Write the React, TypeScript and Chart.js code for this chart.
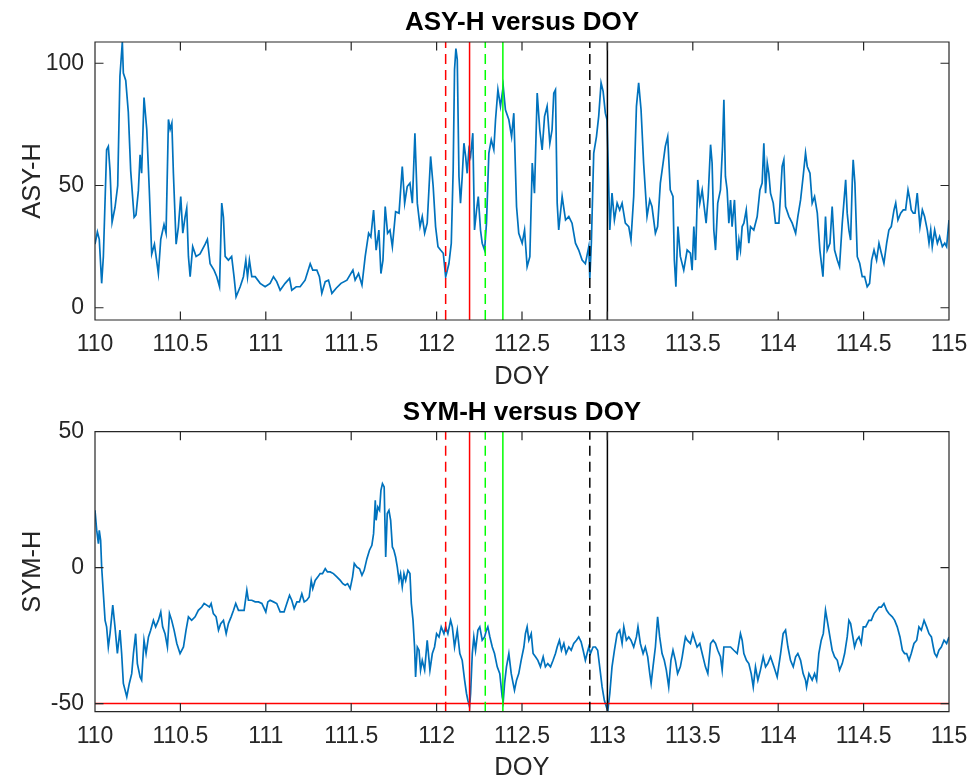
import React, { useEffect, useRef } from "react";
import { Chart, registerables } from "chart.js";

Chart.register(...registerables);

const FONT = '"Liberation Sans", Arial, Helvetica, sans-serif';
const AXIS_COLOR = "#262626";

// ---------- data ----------
const X_TICKS = [110, 110.5, 111, 111.5, 112, 112.5, 113, 113.5, 114, 114.5, 115];
const ASY_TICKS = [0, 50, 100];
const SYM_TICKS = [-50, 0, 50];
const ASY_RANGE = [-5, 108.7];
const SYM_RANGE = [-53, 50];

const asyDoy = [
  110.0, 110.014, 110.025, 110.039, 110.049, 110.068, 110.078, 110.088, 110.1, 110.117, 110.133, 110.146, 110.16, 110.166, 110.18,
  110.195, 110.209, 110.229, 110.24, 110.254, 110.264, 110.273, 110.287, 110.303, 110.318, 110.332, 110.348, 110.371, 110.385, 110.404,
  110.416, 110.43, 110.44, 110.45, 110.459, 110.475, 110.488, 110.502, 110.514, 110.527, 110.537, 110.547, 110.557, 110.572, 110.592,
  110.615, 110.645, 110.658, 110.674, 110.697, 110.713, 110.729, 110.742, 110.752, 110.762, 110.781, 110.8, 110.814, 110.826, 110.85,
  110.869, 110.883, 110.893, 110.904, 110.918, 110.938, 110.967, 110.996, 111.025, 111.045, 111.064, 111.084, 111.113, 111.139, 111.152,
  111.178, 111.201, 111.23, 111.26, 111.275, 111.299, 111.314, 111.328, 111.348, 111.367, 111.387, 111.412, 111.44, 111.475, 111.51,
  111.523, 111.543, 111.563, 111.582, 111.602, 111.615, 111.631, 111.646, 111.662, 111.674, 111.686, 111.699, 111.713, 111.727, 111.741,
  111.76, 111.78, 111.799, 111.813, 111.828, 111.844, 111.858, 111.873, 111.887, 111.903, 111.916, 111.93, 111.945, 111.965, 111.98,
  111.994, 112.008, 112.023, 112.039, 112.053, 112.072, 112.086, 112.097, 112.105, 112.113, 112.121, 112.131, 112.14, 112.15, 112.16,
  112.17, 112.179, 112.189, 112.199, 112.212, 112.222, 112.234, 112.244, 112.257, 112.267, 112.281, 112.292, 112.306, 112.32, 112.335,
  112.345, 112.359, 112.374, 112.39, 112.403, 112.423, 112.439, 112.452, 112.468, 112.481, 112.501, 112.515, 112.53, 112.546, 112.56,
  112.573, 112.589, 112.604, 112.618, 112.632, 112.647, 112.663, 112.676, 112.686, 112.696, 112.706, 112.715, 112.735, 112.755, 112.774,
  112.793, 112.813, 112.832, 112.852, 112.871, 112.891, 112.897, 112.906, 112.92, 112.936, 112.949, 112.963, 112.975, 112.988, 112.998,
  113.014, 113.027, 113.041, 113.057, 113.072, 113.086, 113.105, 113.125, 113.138, 113.154, 113.17, 113.183, 113.197, 113.212, 113.232,
  113.248, 113.261, 113.281, 113.294, 113.31, 113.326, 113.339, 113.353, 113.368, 113.384, 113.392, 113.401, 113.413, 113.427, 113.447,
  113.467, 113.486, 113.496, 113.506, 113.516, 113.529, 113.541, 113.555, 113.564, 113.578, 113.59, 113.604, 113.613, 113.623, 113.633,
  113.646, 113.662, 113.674, 113.682, 113.691, 113.701, 113.711, 113.721, 113.73, 113.744, 113.76, 113.77, 113.779, 113.789, 113.799,
  113.813, 113.828, 113.838, 113.857, 113.877, 113.893, 113.906, 113.916, 113.926, 113.936, 113.945, 113.955, 113.971, 113.984, 114.004,
  114.023, 114.033, 114.043, 114.063, 114.082, 114.102, 114.115, 114.131, 114.146, 114.16, 114.17, 114.186, 114.199, 114.213, 114.229,
  114.244, 114.262, 114.277, 114.287, 114.303, 114.316, 114.33, 114.346, 114.359, 114.375, 114.395, 114.404, 114.414, 114.424, 114.434,
  114.439, 114.449, 114.463, 114.477, 114.492, 114.506, 114.521, 114.535, 114.547, 114.561, 114.576, 114.59, 114.604, 114.619, 114.635,
  114.648, 114.662, 114.678, 114.688, 114.701, 114.717, 114.732, 114.746, 114.76, 114.771, 114.779, 114.791, 114.801, 114.814, 114.83,
  114.844, 114.857, 114.873, 114.883, 114.893, 114.902, 114.916, 114.932, 114.945, 114.961, 114.975, 114.986, 115.0,
];

const asyVal = [
  26, 31, 28, 10, 21, 64.6, 66, 56, 35, 41, 50, 94.7, 108.7, 96, 93,
  80, 56, 37, 38, 48, 62.6, 55, 86, 73, 48, 22, 26, 14, 28, 34,
  30.5, 77, 73, 75.5, 55, 26, 33, 45.5, 30.5, 37, 40.7, 21, 12.7, 25, 21,
  22, 26, 28, 18, 15.4, 12.7, 8.6, 42.8, 37, 21, 19.5, 21, 12.7, 4.5, 8.6,
  12.7, 19.5, 12.7, 19.5, 12.7, 12.7, 10, 8.6, 10, 12.7, 10.7, 7.2, 10, 12, 7.2,
  8.6, 8.6, 11.3, 18, 15.4, 15.4, 12.7, 5.9, 10.7, 11.3, 5.9, 8, 10, 11.3, 15.4,
  11.3, 14, 9.3, 21, 30.5, 29, 40, 23.6, 31.8, 14, 19.5, 41.4, 30.5, 31.8, 25,
  39.3, 38.7, 57.8, 42.8, 49.6, 51, 42.8, 71.4, 42.8, 33.2, 37.3, 30.5, 34.6, 61.9, 49.6,
  33.2, 25, 23.6, 22.3, 12.7, 18, 26.4, 56.4, 97.4, 106, 101.5, 53.7, 42.8, 53.7, 67.3,
  61.9, 55, 64.6, 61.9, 71.4, 31.8, 40, 45.5, 31.8, 26.4, 23.6, 34.6, 63.3, 68.7, 64.6,
  76.9, 89.2, 82.4, 90.6, 81, 76.9, 70, 79.6, 41.4, 30.5, 26.4, 31.8, 16.8, 20.9, 59.2,
  46.9, 87.8, 72.8, 64.6, 78.3, 82.4, 67.3, 72.8, 87.8, 89.2, 42.8, 31.8, 45.5, 35.9, 37.3,
  34.6, 26.4, 23.6, 19.5, 18, 25, 12, 26.4, 63.3, 70, 78.3, 92, 88.5, 79.6, 76.9,
  31.8, 46.9, 35.9, 42.8, 40, 42.8, 34.6, 33.2, 27.7, 45.5, 82.4, 92, 81, 59.2, 37.3,
  44.1, 41.4, 30.5, 33.2, 51, 59.2, 66, 70, 48.2, 45.5, 19.5, 8.6, 33.2, 21, 15.4,
  23.6, 22.3, 15.4, 33.2, 19.5, 52.3, 42.8, 48.2, 42.8, 34.6, 45.5, 66.7, 59.2, 31.8, 23.6,
  42.8, 48.2, 66, 85.1, 53.7, 48.2, 34.6, 44.1, 33.2, 44.1, 19.5, 27.7, 23.6, 33.2, 34.6,
  40, 26.4, 33.2, 31.8, 37.3, 48.2, 51, 67.3, 46.9, 59.2, 55, 46.9, 42.8, 34.6, 34.6,
  57.8, 60.5, 41.4, 37.3, 34.6, 30.5, 37.3, 44.1, 53.7, 63.3, 57.8, 55, 42.8, 45.5, 38.7,
  23.6, 12.7, 37.3, 23.6, 26.4, 41.4, 23.6, 19.5, 16.8, 34.6, 52.3, 38.7, 31.8, 27.7, 52.3,
  60.5, 51, 20.9, 18.2, 12.7, 12.7, 8.6, 10, 19.5, 23.6, 19.5, 26.4, 22.3, 18.2, 26.4,
  31.8, 33.2, 40, 42.8, 35.9, 38.7, 40, 40, 48.2, 44.1, 40, 38.7, 38.7, 46.9, 33.2,
  40, 37.3, 31.8, 26.4, 31.8, 25, 31.8, 26.4, 29.1, 25, 26.4, 25, 35.9,
];

const symDoy = [
  110.0, 110.01, 110.02, 110.025, 110.033, 110.039, 110.049, 110.059, 110.068, 110.078, 110.088, 110.104, 110.117, 110.131, 110.146,
  110.156, 110.166, 110.186, 110.201, 110.215, 110.225, 110.238, 110.248, 110.264, 110.273, 110.287, 110.299, 110.313, 110.326, 110.342,
  110.355, 110.371, 110.385, 110.396, 110.41, 110.424, 110.436, 110.449, 110.463, 110.479, 110.498, 110.518, 110.533, 110.547, 110.566,
  110.586, 110.605, 110.625, 110.639, 110.654, 110.67, 110.68, 110.693, 110.709, 110.723, 110.736, 110.752, 110.768, 110.781, 110.797,
  110.811, 110.824, 110.84, 110.859, 110.873, 110.889, 110.898, 110.918, 110.938, 110.957, 110.977, 111.0, 111.012, 111.025, 111.045,
  111.064, 111.084, 111.107, 111.123, 111.139, 111.152, 111.166, 111.182, 111.197, 111.211, 111.225, 111.24, 111.254, 111.266, 111.275,
  111.289, 111.305, 111.318, 111.332, 111.348, 111.361, 111.377, 111.396, 111.416, 111.436, 111.451, 111.465, 111.479, 111.494, 111.508,
  111.518, 111.533, 111.549, 111.563, 111.576, 111.592, 111.607, 111.621, 111.631, 111.641, 111.646, 111.656, 111.666, 111.674, 111.683,
  111.693, 111.702, 111.711, 111.721, 111.731, 111.741, 111.75, 111.76, 111.77, 111.78, 111.789, 111.799, 111.809, 111.819, 111.832,
  111.844, 111.852, 111.862, 111.871, 111.877, 111.887, 111.897, 111.906, 111.916, 111.93, 111.945, 111.961, 111.975, 111.988, 112.0,
  112.014, 112.027, 112.043, 112.053, 112.066, 112.082, 112.092, 112.105, 112.121, 112.136, 112.15, 112.164, 112.175, 112.183, 112.193,
  112.199, 112.209, 112.218, 112.228, 112.242, 112.253, 112.267, 112.281, 112.292, 112.3, 112.312, 112.326, 112.339, 112.355, 112.37,
  112.384, 112.39, 112.398, 112.409, 112.423, 112.437, 112.448, 112.456, 112.468, 112.481, 112.495, 112.511, 112.52, 112.53, 112.54,
  112.554, 112.565, 112.579, 112.593, 112.608, 112.624, 112.637, 112.651, 112.667, 112.682, 112.696, 112.706, 112.719, 112.731, 112.745,
  112.758, 112.774, 112.788, 112.803, 112.819, 112.832, 112.846, 112.858, 112.871, 112.881, 112.891, 112.901, 112.916, 112.93, 112.943,
  112.955, 112.969, 112.982, 112.994, 113.002, 113.014, 113.027, 113.041, 113.057, 113.072, 113.086, 113.096, 113.111, 113.125, 113.138,
  113.154, 113.17, 113.179, 113.193, 113.209, 113.222, 113.236, 113.248, 113.256, 113.267, 113.281, 113.294, 113.306, 113.32, 113.333,
  113.345, 113.359, 113.372, 113.384, 113.398, 113.411, 113.427, 113.438, 113.447, 113.457, 113.467, 113.486, 113.5, 113.512, 113.525,
  113.541, 113.555, 113.574, 113.588, 113.604, 113.619, 113.633, 113.646, 113.662, 113.672, 113.682, 113.701, 113.721, 113.74, 113.76,
  113.779, 113.789, 113.799, 113.814, 113.828, 113.842, 113.854, 113.867, 113.881, 113.896, 113.912, 113.926, 113.939, 113.955, 113.975,
  113.994, 114.014, 114.029, 114.043, 114.057, 114.072, 114.088, 114.102, 114.115, 114.131, 114.146, 114.16, 114.166, 114.18, 114.199,
  114.213, 114.225, 114.238, 114.252, 114.264, 114.277, 114.287, 114.303, 114.316, 114.33, 114.346, 114.359, 114.375, 114.389, 114.404,
  114.414, 114.424, 114.434, 114.447, 114.459, 114.473, 114.486, 114.498, 114.512, 114.531, 114.545, 114.561, 114.576, 114.59, 114.604,
  114.619, 114.635, 114.648, 114.668, 114.682, 114.697, 114.713, 114.727, 114.74, 114.752, 114.766, 114.779, 114.795, 114.811, 114.824,
  114.838, 114.854, 114.869, 114.883, 114.897, 114.908, 114.916, 114.928, 114.941, 114.955, 114.971, 114.986, 115.0,
];

const symVal = [
  21.1, 13.7, 8.8, 13.7, 10, 0.2, -9.6, -19.4, -21.8, -29.2, -24.3, -13.8, -21.8, -31.6, -23,
  -31.6, -42.6, -47.5, -42.6, -39, -31.6, -24.3, -35.3, -40.2, -41.4, -26.7, -31.6, -25.5, -23, -19.4,
  -21.8, -19.4, -16.3, -21.8, -24.3, -29.2, -16.9, -19.4, -23, -27.9, -31.6, -29.2, -23, -18.1, -19.4,
  -18.1, -15.7, -14.5, -13.2, -13.8, -14.5, -13.2, -16.9, -18.1, -23, -20.6, -19.4, -24.3, -20.6, -18.1,
  -15.7, -13.2, -15.7, -15.7, -15.7, -8.3, -12, -12, -12.6, -12.6, -13.2, -16.3, -12.6, -12, -12.6,
  -13.2, -16.3, -16.3, -13.2, -10.2, -12, -15.1, -12.6, -12.6, -9.6, -12.6, -12, -10.8, -4.7, -7.7,
  -4.7, -3.4, -2.2, -2.2, -0.4, -1.6, -1.6, -2.2, -3.4, -4.7, -5.9, -6.5, -5.9, -7.7, -3.4,
  1.5, 0.2, -0.4, -2.8, -1, 3.3, 6.4, 8.2, 12.5, 24.8, 17.4, 22.3, 21.1, 28.4, 30.9,
  29.7, 3.9, 19.9, 21.1, 17.4, 7.6, 6.4, 3.9, 0.2, -4.7, -2.2, -7.1, -2.2, -4.7, -1,
  -2.2, -13.2, -19.4, -29.2, -40.2, -29.2, -30.4, -37.7, -34.1, -37.7, -26.7, -37.7, -31.6, -29.2, -24.3,
  -25.5, -21.8, -24.3, -21.8, -24.3, -19.4, -21.8, -29.2, -23, -31.6, -34.1, -41.4, -46.3, -48.8, -51.2,
  -46.3, -31.6, -25.5, -30.4, -23, -21.8, -26.7, -25.5, -23, -21.8, -25.5, -29.2, -31.6, -36.5, -39,
  -47.5, -49.3, -42.6, -36.5, -31.6, -39, -42.6, -45.1, -41.4, -39, -34.1, -29.2, -24.3, -21.8, -26.7,
  -24.3, -31.6, -32.8, -34.1, -36.5, -32.8, -36.5, -35.3, -36.5, -34.1, -31.6, -29.2, -26.7, -30.4, -27.9,
  -31.6, -29.2, -30.4, -27.9, -26.7, -25.5, -27.3, -30.4, -34.1, -31.6, -29.2, -31.6, -29.2, -29.2, -30.4,
  -36.5, -43.9, -48.8, -51.2, -52.9, -46.3, -36.5, -30.4, -24.3, -23, -27.9, -21.8, -26.7, -25.5, -26.7,
  -29.2, -25.5, -21.8, -27.9, -31.6, -29.2, -32.8, -39, -42.6, -36.5, -29.2, -18.1, -25.5, -31.6, -34.1,
  -37.7, -43.9, -34.1, -30.4, -34.1, -39, -36.5, -32.8, -29.2, -25.5, -26.7, -27.9, -24.3, -26.7, -29.2,
  -27.9, -31.6, -36.5, -39, -27.9, -26.7, -27.9, -30.4, -32.8, -37.7, -29.2, -29.2, -29.2, -30.4, -31.6,
  -24.3, -26.7, -31.6, -34.1, -35.3, -39, -43.9, -36.5, -41.4, -37.7, -32.8, -36.5, -35.3, -32.8, -36.5,
  -40.2, -31.6, -24.3, -23, -29.2, -34.1, -36.5, -32.8, -31.6, -34.1, -39, -41.4, -43.9, -39, -41.4,
  -39, -41.4, -31.6, -26.7, -24.3, -15.7, -19.4, -25.5, -30.4, -32.8, -34.1, -37.7, -35.3, -31.6, -25.5,
  -19.4, -20.6, -24.3, -29.2, -26.7, -25.5, -27.9, -21.8, -21.8, -19.4, -19.4, -16.9, -15.7, -14.5, -14.5,
  -13.2, -15.7, -16.9, -18.1, -19.4, -21.8, -25.5, -30.4, -31.6, -31.6, -34.1, -31.6, -27.9, -26.7, -21.8,
  -23, -19.4, -21.8, -24.3, -25.5, -29.2, -31.6, -32.8, -30.4, -29.2, -26.7, -27.9, -25.5,
];

// event times (DOY) marked with vertical lines, and the SYM-H threshold
const eventDoy = [112.053, 112.193, 112.285, 112.388, 112.897, 113.0];
const symThreshold = [-50];

// ---------- styles ----------
const EVENT_STYLE = [
  { color: "#ff0000", dash: [10, 6] },
  { color: "#ff0000", dash: [] },
  { color: "#00ff00", dash: [10, 6] },
  { color: "#00ff00", dash: [] },
  { color: "#000000", dash: [10, 6] },
  { color: "#000000", dash: [] },
];

const matlabAxes = {
  id: "matlabAxes",
  afterDraw(chart: any) {
    const { ctx, chartArea, scales } = chart;
    const { left, right, top, bottom } = chartArea;
    const tl = 8.5;
    ctx.save();
    ctx.strokeStyle = AXIS_COLOR;
    ctx.lineWidth = 1.2;
    ctx.beginPath();
    ctx.rect(left, top, right - left, bottom - top);
    scales.x.ticks.forEach((t: any) => {
      const px = scales.x.getPixelForValue(t.value);
      ctx.moveTo(px, bottom);
      ctx.lineTo(px, bottom - tl);
      ctx.moveTo(px, top);
      ctx.lineTo(px, top + tl);
    });
    scales.y.ticks.forEach((t: any) => {
      const py = scales.y.getPixelForValue(t.value);
      ctx.moveTo(left, py);
      ctx.lineTo(left + tl, py);
      ctx.moveTo(right, py);
      ctx.lineTo(right - tl, py);
    });
    ctx.stroke();
    ctx.restore();
  },
};

type PanelOpts = {
  title: string;
  yLabel: string;
  doy: number[];
  vals: number[];
  range: number[];
  yTicks: number[];
  hLines: number[];
  titlePad: { top: number; bottom: number };
  xHeight: number;
  xTitleBottom: number;
};

function makeConfig(o: PanelOpts): any {
  const [yMin, yMax] = o.range;
  const datasets: any[] = [];
  eventDoy.forEach((d, i) => {
    datasets.push({
      data: [
        { x: d, y: yMin },
        { x: d, y: yMax },
      ],
      borderColor: EVENT_STYLE[i].color,
      borderDash: EVENT_STYLE[i].dash,
      borderWidth: 1.5,
      pointRadius: 0,
      order: 1,
    });
  });
  o.hLines.forEach((h) => {
    datasets.push({
      data: [
        { x: X_TICKS[0], y: h },
        { x: X_TICKS[X_TICKS.length - 1], y: h },
      ],
      borderColor: "#ff0000",
      borderWidth: 1.5,
      pointRadius: 0,
      order: 1,
    });
  });
  datasets.push({
    data: o.doy.map((x, i) => ({ x, y: o.vals[i] })),
    borderColor: "#0072BD",
    borderWidth: 1.7,
    pointRadius: 0,
    tension: 0,
    order: 2,
  });

  return {
    type: "line",
    data: { datasets },
    plugins: [matlabAxes],
    options: {
      animation: false,
      responsive: false,
      devicePixelRatio: 1,
      events: [],
      layout: { padding: { left: 0, right: 24, top: 0, bottom: 0 } },
      plugins: {
        legend: { display: false },
        tooltip: { enabled: false },
        title: {
          display: true,
          text: o.title,
          fullSize: false,
          color: "#000000",
          font: { family: FONT, size: 26, weight: "bold", lineHeight: 1 },
          padding: o.titlePad,
        },
      },
      scales: {
        x: {
          type: "linear",
          position: "bottom",
          min: X_TICKS[0],
          max: X_TICKS[X_TICKS.length - 1],
          grid: { display: false, drawTicks: false, tickLength: 0 },
          border: { display: false },
          ticks: {
            color: AXIS_COLOR,
            font: { family: FONT, size: 23, lineHeight: 1.2 },
            padding: 11,
            autoSkip: false,
            maxRotation: 0,
            minRotation: 0,
            callback: (v: any) => String(v),
          },
          afterBuildTicks: (s: any) => {
            s.ticks = X_TICKS.map((v) => ({ value: v }));
          },
          afterFit: (s: any) => {
            s.height = o.xHeight;
            s.paddingLeft = 0;
            s.paddingRight = 0;
          },
          title: {
            display: true,
            text: "DOY",
            color: AXIS_COLOR,
            font: { family: FONT, size: 25.5, lineHeight: 1 },
            padding: { top: 0, bottom: o.xTitleBottom },
          },
        },
        y: {
          type: "linear",
          position: "left",
          min: yMin,
          max: yMax,
          grid: { display: false, drawTicks: false, tickLength: 0 },
          border: { display: false },
          ticks: {
            color: AXIS_COLOR,
            font: { family: FONT, size: 23, lineHeight: 1.2 },
            padding: 11,
            autoSkip: false,
            callback: (v: any) => String(v),
          },
          afterBuildTicks: (s: any) => {
            s.ticks = o.yTicks.map((v) => ({ value: v }));
          },
          afterFit: (s: any) => {
            s.width = 95;
            s.paddingTop = 0;
            s.paddingBottom = 0;
          },
          title: {
            display: true,
            text: o.yLabel,
            color: AXIS_COLOR,
            font: { family: FONT, size: 25.5, lineHeight: 1 },
            padding: { top: 19.75, bottom: 0 },
          },
        },
      },
    },
  };
}

function Panel(props: { opts: PanelOpts; top: number; height: number }) {
  const ref = useRef<HTMLCanvasElement | null>(null);
  useEffect(() => {
    if (!ref.current) return;
    const chart = new Chart(ref.current, makeConfig(props.opts));
    return () => chart.destroy();
  }, []);
  return (
    <canvas
      ref={ref}
      width={973}
      height={props.height}
      style={{ position: "absolute", left: 0, top: props.top, width: 973, height: props.height }}
    />
  );
}

export default function App() {
  const asyOpts: PanelOpts = {
    title: "ASY-H versus DOY",
    yLabel: "ASY-H",
    doy: asyDoy,
    vals: asyVal,
    range: ASY_RANGE,
    yTicks: ASY_TICKS,
    hLines: [],
    titlePad: { top: 10, bottom: 6 },
    xHeight: 80,
    xTitleBottom: 10.5,
  };
  const symOpts: PanelOpts = {
    title: "SYM-H versus DOY",
    yLabel: "SYM-H",
    doy: symDoy,
    vals: symVal,
    range: SYM_RANGE,
    yTicks: SYM_TICKS,
    hLines: symThreshold,
    titlePad: { top: 0, bottom: 5.7 },
    xHeight: 69.3,
    xTitleBottom: 0.5,
  };
  return (
    <div style={{ position: "fixed", left: 0, top: 0, width: 973, height: 781, background: "#ffffff" }}>
      <Panel opts={asyOpts} top={0} height={400} />
      <Panel opts={symOpts} top={400} height={381} />
    </div>
  );
}
